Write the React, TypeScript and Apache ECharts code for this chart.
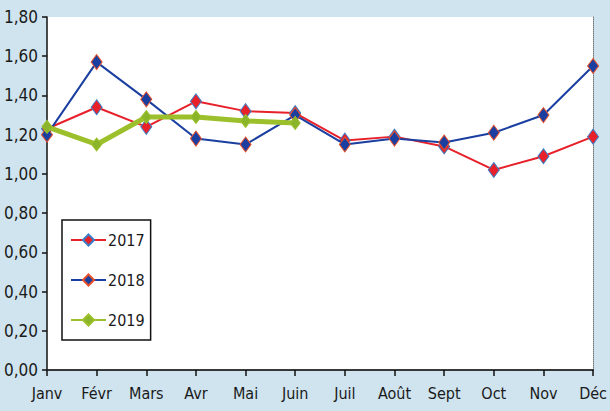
import React, { useEffect, useRef } from "react";
import * as echarts from "echarts";

const months = ["Janv", "Févr", "Mars", "Avr", "Mai", "Juin", "Juil", "Août", "Sept", "Oct", "Nov", "Déc"];
const v2017 = [1.23, 1.34, 1.24, 1.37, 1.32, 1.31, 1.17, 1.19, 1.14, 1.02, 1.09, 1.19];
const v2018 = [1.2, 1.57, 1.38, 1.18, 1.15, 1.3, 1.15, 1.18, 1.16, 1.21, 1.3, 1.55];
const v2019 = [1.24, 1.15, 1.29, 1.29, 1.27, 1.26];

const FONT = "'DejaVu Sans Condensed', 'Liberation Sans Narrow', 'Liberation Sans', sans-serif";

export default function App() {
  const ref = useRef<HTMLDivElement>(null);
  useEffect(() => {
    if (!ref.current) return;
    const chart = echarts.init(ref.current, null, { renderer: "svg" });
    chart.setOption({
      animation: false,
      backgroundColor: "#cfe4ef",
      grid: {
        left: 47,
        right: 14,
        top: 17,
        bottom: 41,
        show: true,
        backgroundColor: "#ffffff",
        borderWidth: 0,
      },
      legend: {
        orient: "vertical",
        left: 62,
        top: 220,
        backgroundColor: "#ffffff",
        borderColor: "#111",
        borderWidth: 1.5,
        borderRadius: 0,
        padding: [12, 6, 12, 8],
        itemWidth: 35,
        itemHeight: 14,
        itemGap: 24,
        textStyle: { fontFamily: FONT, fontSize: 16, color: "#1a1a1a", padding: [0, 0, 0, -3] },
        data: ["2017", "2018", "2019"],
      },
      xAxis: [
        {
          type: "category",
          data: months,
          boundaryGap: false,
          axisLine: { lineStyle: { color: "#111", width: 1.5 } },
          axisTick: { show: true, length: 6, inside: false, lineStyle: { color: "#111", width: 1.5 } },
          axisLabel: { fontFamily: FONT, fontSize: 16, color: "#1a1a1a", margin: 15 },
          splitLine: { show: false },
        },
        {
          type: "category",
          data: months,
          position: "top",
          boundaryGap: false,
          axisLine: { lineStyle: { color: "#333", width: 1.5 } },
          axisTick: { show: false },
          axisLabel: { show: false },
        },
      ],
      yAxis: [
        {
          type: "value",
          min: 0,
          max: 1.8,
          interval: 0.2,
          axisLine: { show: true, lineStyle: { color: "#111", width: 1.5 } },
          axisTick: { show: true, length: 5, lineStyle: { color: "#111", width: 1.5 } },
          axisLabel: {
            fontFamily: FONT,
            fontSize: 17,
            color: "#1a1a1a",
            margin: 9,
            formatter: (v: number) => v.toFixed(2).replace(".", ","),
          },
          splitLine: { show: false },
        },
        {
          type: "value",
          min: 0,
          max: 1.8,
          interval: 0.2,
          position: "right",
          axisLine: { show: true, lineStyle: { color: "#777", width: 1, type: "dotted" } },
          axisTick: { show: false },
          axisLabel: { show: false },
          splitLine: { show: false },
        },
      ],
      series: [
        {
          name: "2017",
          type: "line",
          data: v2017,
          symbol: "diamond",
          symbolSize: [11, 15],
          lineStyle: { color: "#e8202a", width: 2 },
          itemStyle: { color: "#e8202a", borderColor: "#3a7fc8", borderWidth: 1 },
          z: 3,
        },
        {
          name: "2018",
          type: "line",
          data: v2018,
          symbol: "diamond",
          symbolSize: [11, 15],
          lineStyle: { color: "#1a3fa0", width: 2 },
          itemStyle: { color: "#1a3fa0", borderColor: "#e8502a", borderWidth: 1 },
          z: 4,
        },
        {
          name: "2019",
          type: "line",
          data: v2019,
          symbol: "diamond",
          symbolSize: [10, 13],
          lineStyle: { color: "#9cc02c", width: 5 },
          itemStyle: { color: "#8ab52a", borderColor: "#9cc02c", borderWidth: 1 },
          z: 5,
        },
      ],
    });
    return () => chart.dispose();
  }, []);
  return <div ref={ref} style={{ width: 610, height: 411, position: "absolute", left: 0, top: 0 }} />;
}
